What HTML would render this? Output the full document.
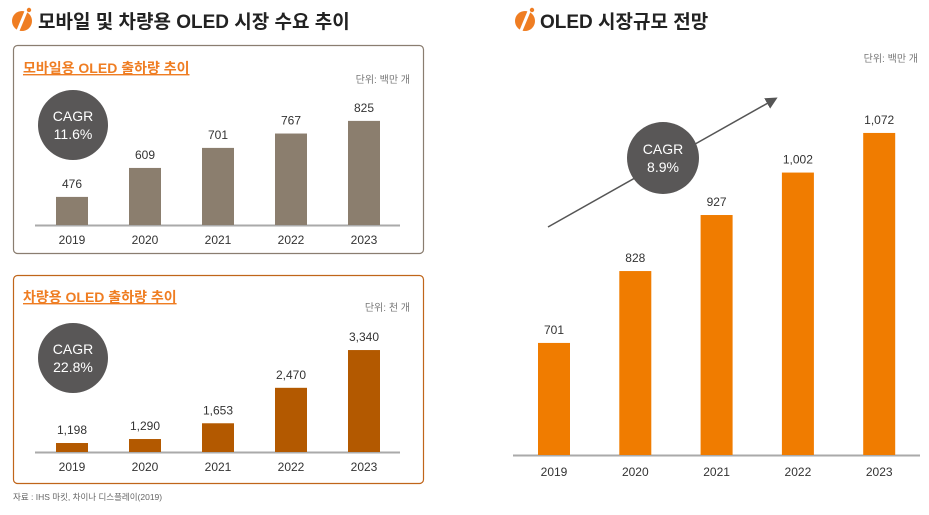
<!DOCTYPE html>
<html><head><meta charset="utf-8">
<style>
body{margin:0;background:#fff;width:929px;height:510px;overflow:hidden;font-family:"Liberation Sans","Noto Sans CJK KR",sans-serif;}
svg text{font-family:"Liberation Sans","Noto Sans CJK KR",sans-serif;}
</style></head>
<body>
<svg id="c" width="929" height="510" xmlns="http://www.w3.org/2000/svg">
<defs><marker id="ah" markerWidth="8" markerHeight="8" refX="6" refY="4" orient="auto"><path d="M0,0 L8,4 L0,8 Z" fill="#555"/></marker></defs>
<g>
<circle cx="22" cy="21" r="10" fill="#ef7d22"/><path d="M27,9 L17,33" stroke="#fff" stroke-width="3"/><circle cx="29" cy="10" r="2.2" fill="#ef7d22"/>
<text x="38" y="28" font-size="19" font-weight="bold" fill="#222">모바일 및 차량용 OLED 시장 수요 추이</text></g>
<g>
<circle cx="525" cy="21" r="10" fill="#ef7d22"/><path d="M530,9 L520,33" stroke="#fff" stroke-width="3"/><circle cx="532" cy="10" r="2.2" fill="#ef7d22"/>
<text x="540" y="28" font-size="19" font-weight="bold" fill="#222">OLED 시장규모 전망</text></g>
<rect x="13.5" y="45.5" width="410" height="208" rx="4" fill="none" stroke="#8a7d70" stroke-width="1.2"/>
<rect x="13.5" y="275.5" width="410" height="208" rx="4" fill="none" stroke="#c0651a" stroke-width="1.2"/>
<text x="23" y="73" font-size="14" font-weight="bold" fill="#ef7d22" text-decoration="underline">모바일용 OLED 출하량 추이</text>
<text x="410" y="83" font-size="10" fill="#777" text-anchor="end">단위: 백만 개</text>
<text x="23" y="302" font-size="14" font-weight="bold" fill="#ef7d22" text-decoration="underline">차량용 OLED 출하량 추이</text>
<text x="410" y="311" font-size="10" fill="#777" text-anchor="end">단위: 천 개</text>
<text x="918" y="62" font-size="10" fill="#777" text-anchor="end">단위: 백만 개</text>
<text x="13" y="500" font-size="8.5" fill="#666">자료 : IHS 마킷, 차이나 디스플레이(2019)</text>
<line x1="548" y1="227" x2="775" y2="99" stroke="#555" stroke-width="1.5" marker-end="url(#ah)"/>
<g id="charts"></g>
</svg>
<script>
const years = ["2019","2020","2021","2022","2023"];
const mobileValues = [476,609,701,767,825];
const mobileLabels = ["476","609","701","767","825"];
const vehicleValues = [1198,1290,1653,2470,3340];
const vehicleLabels = ["1,198","1,290","1,653","2,470","3,340"];
const marketValues = [701,828,927,1002,1072];
const marketLabels = ["701","828","927","1,002","1,072"];
const NS="http://www.w3.org/2000/svg";
const root=document.getElementById('charts');
function mk(tag,attrs,parent){const e=document.createElementNS(NS,tag);for(const k in attrs)e.setAttribute(k,attrs[k]);(parent||root).appendChild(e);return e;}
function chart(o){
  const g=mk('g',{});
  
  
  const y=v=>o.base-(v-o.v0)*o.k;
  const x=i=>o.x0+i*o.step;
  const ax=mk('line',{x1:o.ax1,x2:o.ax2,y1:o.base+0.5,y2:o.base+0.5,stroke:'#aaa','stroke-width':2},g);
  
  
  o.vals.forEach((v,i)=>{
    const r=mk('rect',{x:x(i)-o.bw/2,y:y(v),width:o.bw,height:o.base-y(v),fill:o.color},g);
    
    
    const t=mk('text',{x:x(i),y:y(v)-9,'font-size':12,fill:'#333','text-anchor':'middle'},g);t.textContent=o.labels[i];
    
    
    const yt=mk('text',{x:x(i),y:o.base+o.yl,'font-size':12,fill:'#333','text-anchor':'middle'},g);yt.textContent=years[i];
    
    
  });
  const cg=mk('g',{},g);
  
  
  mk('circle',{cx:o.cx,cy:o.cy,r:o.cr,fill:'#595757'},cg);
  const c1=mk('text',{x:o.cx,y:o.cy-4,'font-size':14,fill:'#fff','text-anchor':'middle'},cg);c1.textContent='CAGR';
  const c2=mk('text',{x:o.cx,y:o.cy+14,'font-size':14,fill:'#fff','text-anchor':'middle'},cg);c2.textContent=o.cagr;
}
chart({name:'mobile-chart',vals:mobileValues,labels:mobileLabels,base:225,v0:347,k:0.2178,x0:72,step:73,bw:32,color:'#8b7e6e',ax1:35,ax2:400,yl:19,cx:73,cy:125,cr:35,cagr:'11.6%'});
chart({name:'vehicle-chart',vals:vehicleValues,labels:vehicleLabels,base:452,v0:991,k:0.0434,x0:72,step:73,bw:32,color:'#b35900',ax1:35,ax2:400,yl:19,cx:73,cy:358,cr:35,cagr:'22.8%'});
chart({name:'market-chart',vals:marketValues,labels:marketLabels,base:455,v0:503,k:0.566,x0:554,step:81.3,bw:32,color:'#f07c00',ax1:513,ax2:920,yl:21,cx:663,cy:158,cr:36,cagr:'8.9%'});
</script>
</body></html>
